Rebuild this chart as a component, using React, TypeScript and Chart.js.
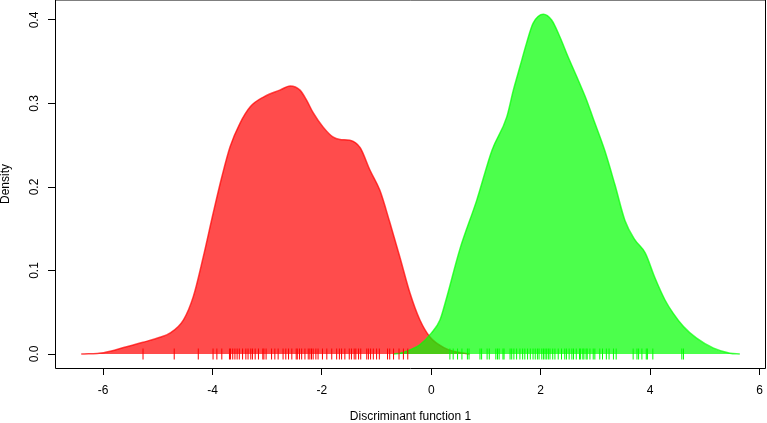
import React, { useEffect, useRef } from "react";
import { Chart, registerables } from "chart.js";

Chart.register(...registerables);

// Axis ticks
const xTicks = [-6, -4, -2, 0, 2, 4, 6];
const xTickLabels = ["-6", "-4", "-2", "0", "2", "4", "6"];
const yTicks = [0, 0.1, 0.2, 0.3, 0.4];
const yTickLabels = ["0.0", "0.1", "0.2", "0.3", "0.4"];

// Density curve, group 1 (red)
const redX = [-6.40, -5.99, -5.57, -5.27, -4.96, -4.78, -4.53, -4.35, -4.17, -3.99, -3.83, -3.68, -3.50, -3.31, -3.06, -2.77, -2.58, -2.40, -2.28, -2.16, -1.98, -1.80, -1.67, -1.49, -1.30, -1.12, -0.94, -0.76, -0.57, -0.39, -0.21, -0.02, 0.25, 0.49, 0.70];
const redY = [0, 0.0016, 0.0087, 0.014, 0.020, 0.025, 0.041, 0.069, 0.116, 0.168, 0.212, 0.248, 0.276, 0.296, 0.308, 0.316, 0.321, 0.316, 0.304, 0.289, 0.272, 0.260, 0.257, 0.256, 0.247, 0.220, 0.196, 0.158, 0.115, 0.073, 0.041, 0.020, 0.007, 0.002, 0];

// Density curve, group 2 (green)
const greenX = [-0.70, -0.57, -0.39, -0.21, 0.00, 0.16, 0.27, 0.52, 0.83, 1.11, 1.38, 1.50, 1.62, 1.74, 1.86, 2.05, 2.20, 2.35, 2.50, 2.66, 2.84, 2.96, 3.17, 3.36, 3.54, 3.72, 3.91, 4.09, 4.27, 4.42, 4.61, 4.85, 5.16, 5.46, 5.64];
const greenY = [0, 0.001, 0.005, 0.011, 0.025, 0.041, 0.065, 0.125, 0.184, 0.244, 0.284, 0.316, 0.344, 0.372, 0.396, 0.407, 0.400, 0.380, 0.356, 0.332, 0.304, 0.282, 0.244, 0.202, 0.160, 0.137, 0.121, 0.091, 0.065, 0.049, 0.033, 0.019, 0.007, 0.001, 0];

// Rug values
const redRug = [-5.27, -4.70, -4.26, -3.99, -3.92, -3.83, -3.69, -3.67, -3.63, -3.59, -3.55, -3.51, -3.45, -3.39, -3.35, -3.30, -3.27, -3.22, -3.16, -3.08, -3.06, -3.02, -2.92, -2.86, -2.80, -2.71, -2.66, -2.61, -2.55, -2.47, -2.45, -2.41, -2.37, -2.31, -2.25, -2.22, -2.19, -2.16, -2.11, -2.07, -1.99, -1.91, -1.82, -1.73, -1.68, -1.64, -1.58, -1.50, -1.46, -1.41, -1.38, -1.33, -1.29, -1.18, -1.15, -1.11, -1.06, -1.00, -0.95, -0.80, -0.76, -0.69, -0.59, -0.51, -0.43];
const greenRug = [0.34, 0.40, 0.48, 0.56, 0.66, 0.69, 0.89, 0.92, 1.02, 1.06, 1.18, 1.21, 1.24, 1.31, 1.33, 1.44, 1.47, 1.51, 1.56, 1.62, 1.67, 1.71, 1.76, 1.81, 1.86, 1.90, 1.94, 1.97, 2.02, 2.05, 2.08, 2.11, 2.14, 2.17, 2.22, 2.26, 2.32, 2.38, 2.44, 2.47, 2.52, 2.57, 2.60, 2.65, 2.71, 2.73, 2.77, 2.79, 2.83, 2.85, 2.90, 2.96, 2.99, 3.08, 3.13, 3.20, 3.25, 3.33, 3.38, 3.69, 3.76, 3.79, 3.85, 3.93, 3.95, 4.05, 4.58, 4.61];

const xTitle = "Discriminant function 1";
const yTitle = "Density";

const FONT = '"Liberation Sans", Arial, Helvetica, sans-serif';

export default function App() {
  const ref = useRef<HTMLCanvasElement>(null);

  useEffect(() => {
    document.body.style.margin = "0";
    const canvas = ref.current;
    if (!canvas) return;

    const boxPlugin = {
      id: "rbox",
      afterDraw(chart: any) {
        const { ctx, chartArea: a } = chart;
        const ys = chart.scales.y;
        ctx.save();
        ctx.strokeStyle = "#000";
        ctx.lineWidth = 1;
        ctx.beginPath();
        ctx.moveTo(Math.round(a.left) + 0.5, a.top);
        ctx.lineTo(Math.round(a.right) - 0.5, a.top);
        ctx.lineTo(Math.round(a.right) - 0.5, Math.round(a.bottom) + 0.5);
        ctx.lineTo(Math.round(a.left) + 0.5, Math.round(a.bottom) + 0.5);
        ctx.closePath();
        ctx.stroke();
        ctx.fillStyle = "#000";
        ctx.font = `12px ${FONT}`;
        ctx.textAlign = "center";
        ctx.textBaseline = "middle";
        yTicks.forEach((v, i) => {
          const py = ys.getPixelForValue(v);
          ctx.save();
          ctx.translate(35, py);
          ctx.rotate(-Math.PI / 2);
          ctx.fillText(yTickLabels[i], 0, 0);
          ctx.restore();
        });
        ctx.restore();
      },
    };

    const chart = new Chart(canvas, {
      type: "line",
      data: {
        datasets: [
          {
            label: "rugG",
            data: greenRug.map((x) => ({ x, y: 0 })),
            showLine: false,
            pointStyle: "line",
            pointRadius: 5.5,
            pointRotation: 90,
            pointBorderColor: "rgb(0,255,0)",
            pointBorderWidth: 1,
            borderColor: "rgb(0,255,0)",
            fill: false,
            order: -2,
          },
          {
            label: "rugR",
            data: redRug.map((x) => ({ x, y: 0 })),
            showLine: false,
            pointStyle: "line",
            pointRadius: 5.5,
            pointRotation: 90,
            pointBorderColor: "rgb(255,0,0)",
            pointBorderWidth: 1,
            borderColor: "rgb(255,0,0)",
            fill: false,
            order: -1,
          },
          {
            label: "green",
            data: greenX.map((x, i) => ({ x, y: greenY[i] })),
            borderColor: "rgba(0,255,0,0.7)",
            backgroundColor: "rgba(0,255,0,0.7)",
            borderWidth: 1.5,
            pointRadius: 0,
            fill: "origin",
            cubicInterpolationMode: "monotone",
            order: 0,
          },
          {
            label: "red",
            data: redX.map((x, i) => ({ x, y: redY[i] })),
            borderColor: "rgba(255,0,0,0.7)",
            backgroundColor: "rgba(255,0,0,0.7)",
            borderWidth: 1.5,
            pointRadius: 0,
            fill: "origin",
            cubicInterpolationMode: "monotone",
            order: 1,
          },
        ],
      },
      options: {
        animation: false,
        responsive: false,
        devicePixelRatio: 1,
        events: [],
        layout: { autoPadding: false, padding: { left: 0, right: 1, top: 0, bottom: 0 } },
        plugins: {
          legend: { display: false },
          tooltip: { enabled: false },
        },
        scales: {
          x: {
            type: "linear",
            position: "bottom",
            min: (55 - 431.3) / 54.7,
            max: (766 - 431.3) / 54.7,
            afterBuildTicks: (s: any) => {
              s.ticks = xTicks.map((v) => ({ value: v }));
            },
            afterFit: (s: any) => {
              s.height = 55;
              s.paddingLeft = 0;
              s.paddingRight = 0;
              s.paddingTop = 0;
              s.paddingBottom = 0;
            },
            grid: {
              drawOnChartArea: false,
              drawTicks: true,
              tickLength: 7,
              color: "#000",
              lineWidth: 1,
            },
            border: { display: false },
            ticks: {
              autoSkip: false,
              maxRotation: 0,
              minRotation: 0,
              padding: 8,
              color: "#000",
              font: { family: FONT, size: 12 },
              callback: (_v: any, i: number) => xTickLabels[i],
            },
            title: {
              display: true,
              text: xTitle,
              color: "#000",
              font: { family: FONT, size: 12, lineHeight: 1 },
              padding: 0,
            },
          },
          y: {
            type: "linear",
            position: "left",
            min: -14 / 835,
            max: 354 / 835,
            afterBuildTicks: (s: any) => {
              s.ticks = yTicks.map((v) => ({ value: v }));
            },
            afterFit: (s: any) => {
              s.width = 55;
              s.paddingLeft = 0;
              s.paddingRight = 0;
              s.paddingTop = 0;
              s.paddingBottom = 0;
            },
            grid: {
              drawOnChartArea: false,
              drawTicks: true,
              tickLength: 7,
              color: "#000",
              lineWidth: 1,
            },
            border: { display: false },
            ticks: { display: false, padding: 0 },
            title: {
              display: true,
              text: yTitle,
              color: "#000",
              font: { family: FONT, size: 12, lineHeight: 1 },
              padding: 0,
            },
          },
        },
      },
      plugins: [boxPlugin],
    } as any);

    return () => chart.destroy();
  }, []);

  return (
    <div style={{ width: 767, height: 423 }}>
      <canvas ref={ref} width={767} height={423} style={{ display: "block" }} />
    </div>
  );
}
